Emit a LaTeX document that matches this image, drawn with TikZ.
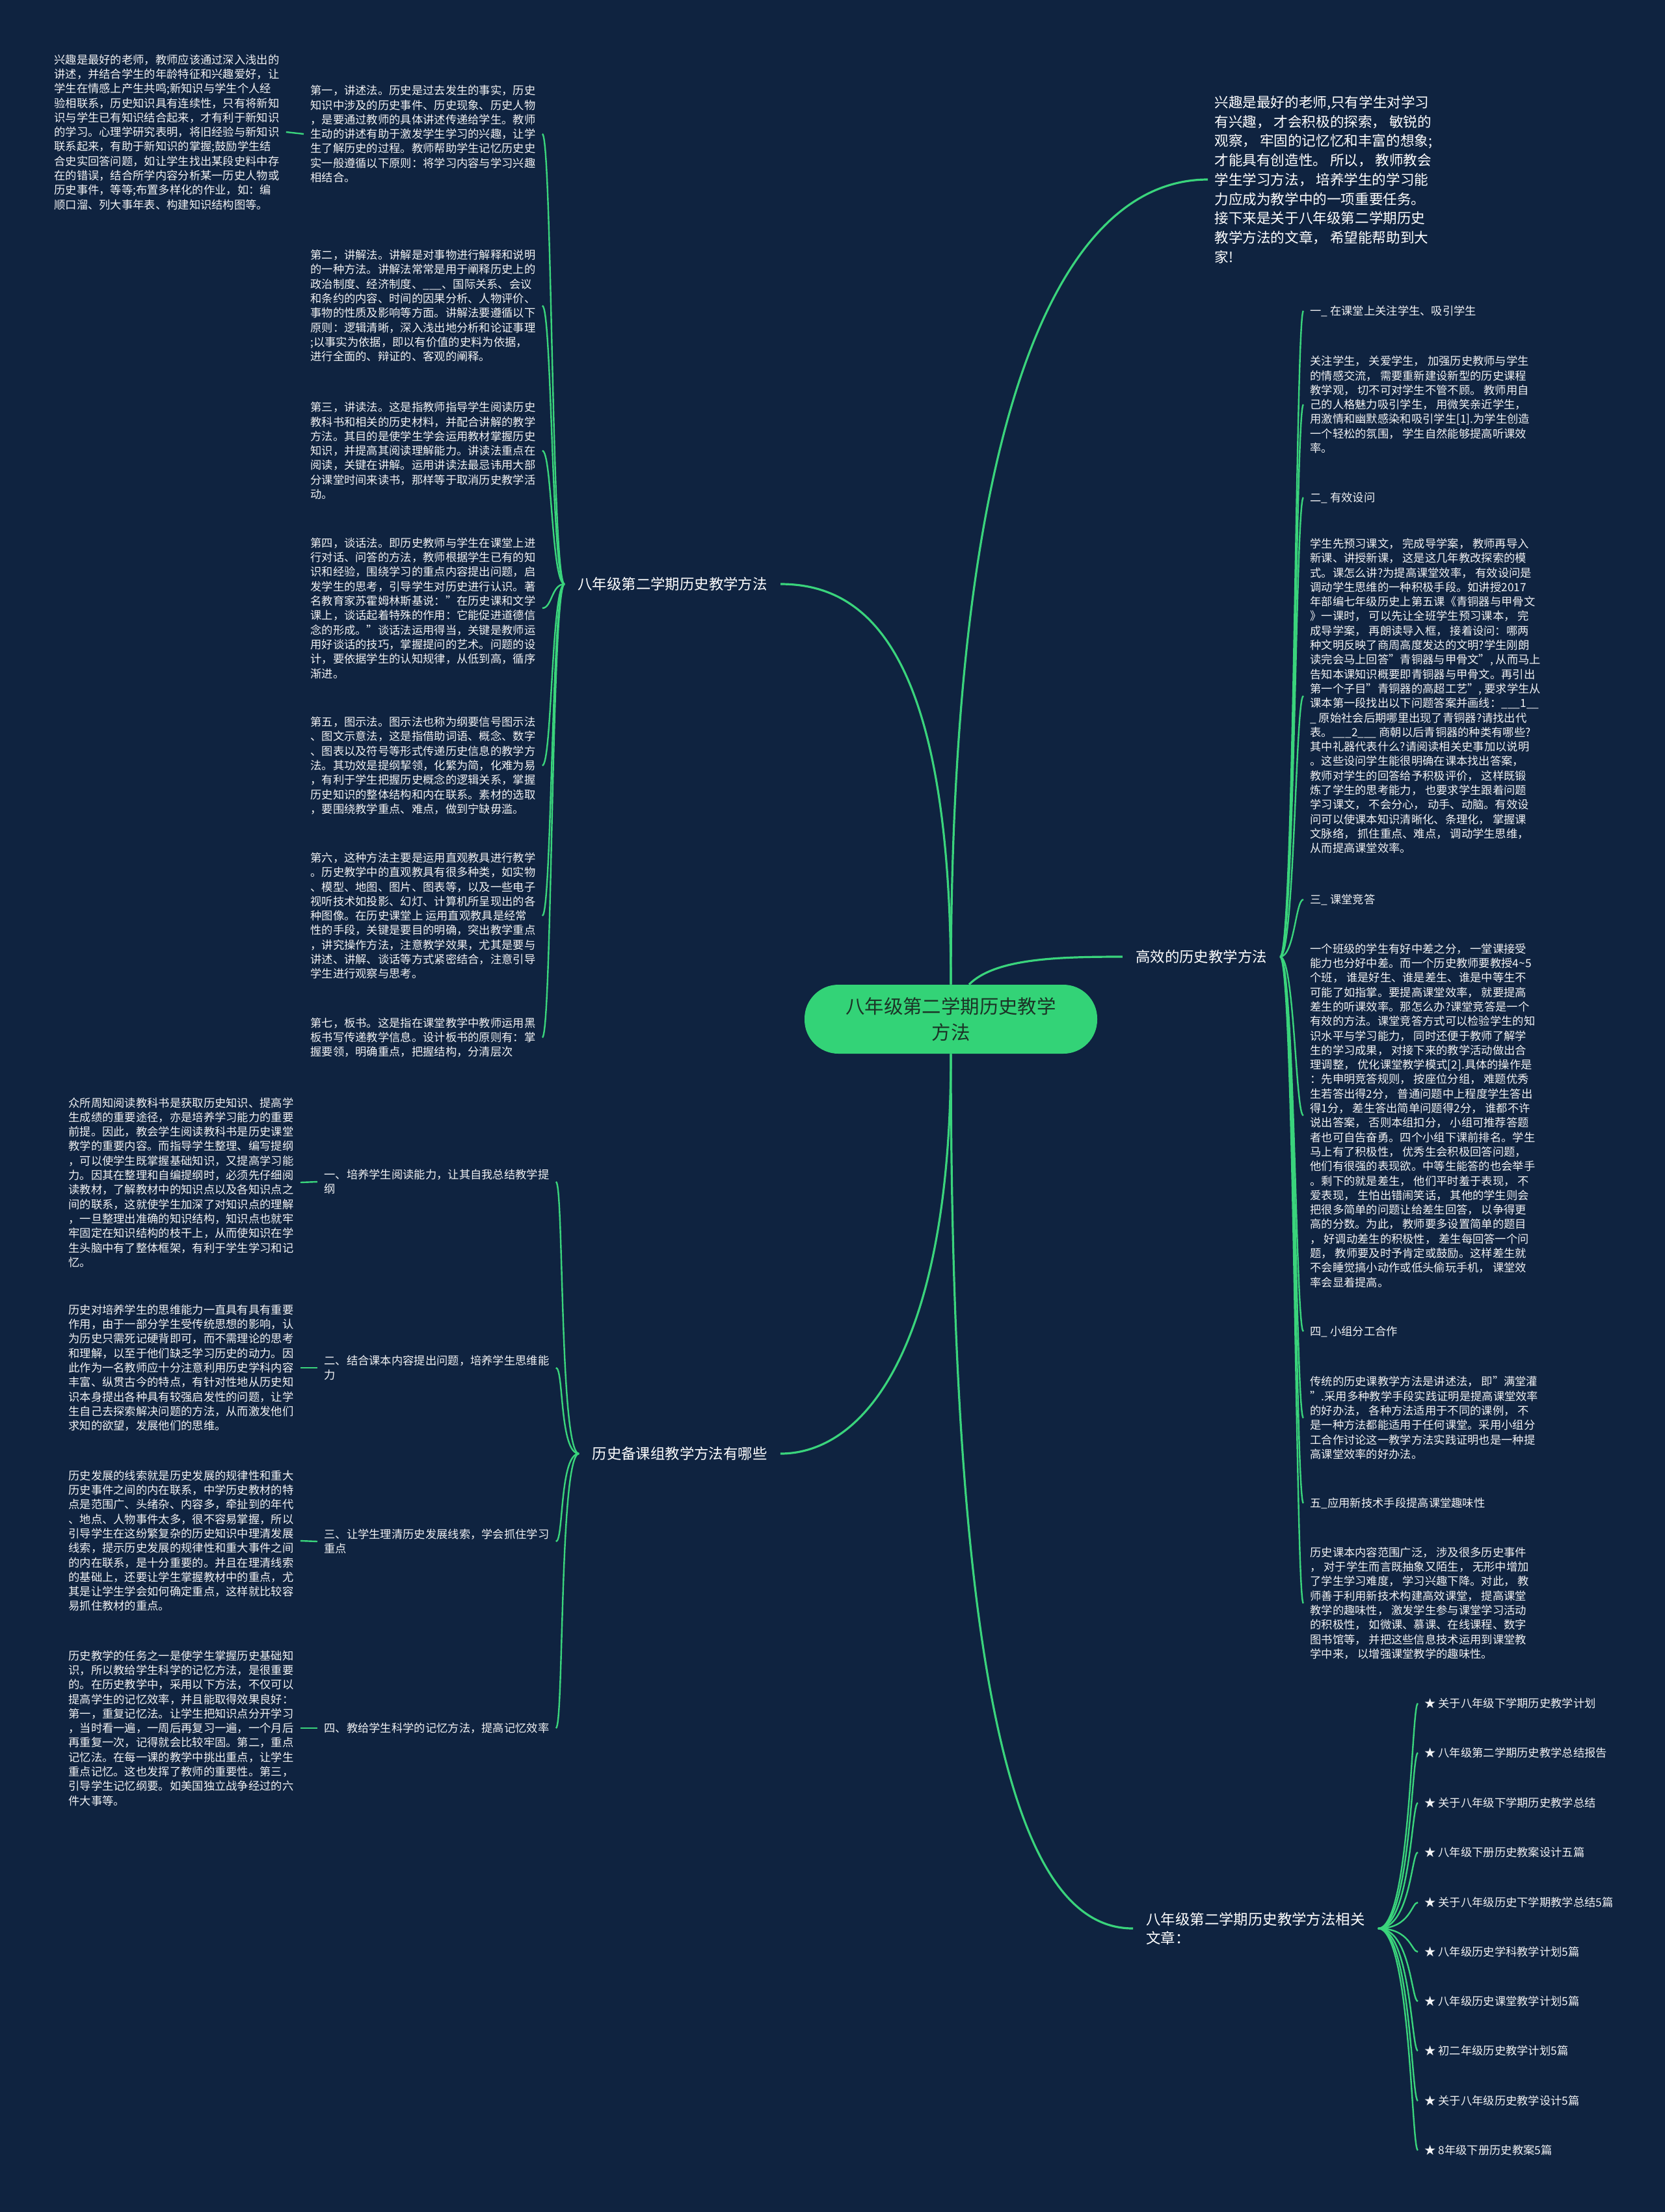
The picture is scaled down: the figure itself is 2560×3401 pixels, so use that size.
\documentclass[tikz,border=0pt]{standalone}
\usepackage{fontspec}
\setmainfont{Noto Sans CJK SC}
\definecolor{mapbg}{HTML}{0F2340}
\definecolor{mapgreen}{HTML}{3AD47C}
\definecolor{topicfill}{HTML}{33D377}
\definecolor{topictext}{HTML}{1B3326}
\tikzstyle{mainline}=[-, line width=1.6pt, mapgreen]
\tikzstyle{subline}=[-, line width=1.2pt, mapgreen]
\tikzstyle{topic}=[rectangle, rounded corners=26pt, fill=topicfill, minimum width=225pt, minimum height=53pt, align=center, text=topictext, font=\fontsize{14.7}{20}\selectfont]
\tikzstyle{branch}=[inner xsep=10pt, inner ysep=2pt, align=left, text=white, font=\fontsize{11.2}{14.5}\selectfont]
\tikzstyle{leaf}=[inner xsep=5pt, inner ysep=0pt, align=left, text=white!94!mapbg, font=\fontsize{8.65}{11.15}\selectfont]
\tikzstyle{intro}=[inner xsep=5pt, inner ysep=0pt, align=left, text=white, font=\fontsize{10.8}{14.85}\selectfont]

\begin{document}
\begin{tikzpicture}[x=0.5pt, y=-0.5pt]
		\fill[mapbg] (0,0) rectangle (2560,3401);
		\useasboundingbox (0,0) rectangle (2560,3401);

		\node (central topic) at (1462, 1567) [topic] {八年级第二学期历史教学\\方法};

		\node (teaching methods) at (1034, 898) [branch] {八年级第二学期历史教学方法};
		\node (lesson prep) at (1045, 2235) [branch] {历史备课组教学方法有哪些};
		\node (efficient methods) at (1847, 1471) [branch] {高效的历史教学方法};
		\node (related articles) at (1742, 2965) [branch, anchor=west] {八年级第二学期历史教学方法相关\\文章：};

		\node (intro) at (1857, 276) [intro, anchor=west] {兴趣是最好的老师,只有学生对学习\\有兴趣， 才会积极的探索， 敏锐的\\观察， 牢固的记忆忆和丰富的想象;\\才能具有创造性。 所以， 教师教会\\学生学习方法， 培养学生的学习能\\力应成为教学中的一项重要任务。\\接下来是关于八年级第二学期历史\\教学方法的文章， 希望能帮助到大\\家!};

		\draw[mainline] (central topic.north) .. controls +(0,-514) and +(132,0) .. (teaching methods.east);
		\draw[mainline] (central topic.north) .. controls +(0,-900) and +(-220,0) .. (intro.west);
		\draw[mainline] ([xshift=14pt]central topic.north) .. controls +(40,-40) and +(-100,0) .. (efficient methods.west);
		\draw[mainline] (central topic.south) .. controls +(0,450) and +(130,0) .. (lesson prep.east);
		\draw[mainline] (central topic.south) .. controls +(0,1100) and +(-150,0) .. (related articles.west);

		\node (lecture method) at (467, 206) [leaf, anchor=west] {第一，讲述法。历史是过去发生的事实，历史\\知识中涉及的历史事件、历史现象、历史人物\\，是要通过教师的具体讲述传递给学生。教师\\生动的讲述有助于激发学生学习的兴趣，让学\\生了解历史的过程。教师帮助学生记忆历史史\\实一般遵循以下原则：将学习内容与学习兴趣\\相结合。};
		\node (interest leaf) at (73, 203) [leaf, anchor=west] {兴趣是最好的老师，教师应该通过深入浅出的\\讲述，并结合学生的年龄特征和兴趣爱好，让\\学生在情感上产生共鸣;新知识与学生个人经\\验相联系，历史知识具有连续性，只有将新知\\识与学生已有知识结合起来，才有利于新知识\\的学习。心理学研究表明，将旧经验与新知识\\联系起来，有助于新知识的掌握;鼓励学生结\\合史实回答问题，如让学生找出某段史料中存\\在的错误，结合所学内容分析某一历史人物或\\历史事件，等等;布置多样化的作业，如：编\\顺口溜、列大事年表、构建知识结构图等。};
		\node (explanation method) at (467, 470) [leaf, anchor=west] {第二，讲解法。讲解是对事物进行解释和说明\\的一种方法。讲解法常常是用于阐释历史上的\\政治制度、经济制度、\_\_\_、国际关系、会议\\和条约的内容、时间的因果分析、人物评价、\\事物的性质及影响等方面。讲解法要遵循以下\\原则：逻辑清晰，深入浅出地分析和论证事理\\;以事实为依据，即以有价值的史料为依据，\\进行全面的、辩证的、客观的阐释。};
		\node (reading method) at (467, 693) [leaf, anchor=west] {第三，讲读法。这是指教师指导学生阅读历史\\教科书和相关的历史材料，并配合讲解的教学\\方法。其目的是使学生学会运用教材掌握历史\\知识，并提高其阅读理解能力。讲读法重点在\\阅读，关键在讲解。运用讲读法最忌讳用大部\\分课堂时间来读书，那样等于取消历史教学活\\动。};
		\node (dialogue method) at (467, 935) [leaf, anchor=west] {第四，谈话法。即历史教师与学生在课堂上进\\行对话、问答的方法，教师根据学生已有的知\\识和经验，围绕学习的重点内容提出问题，启\\发学生的思考，引导学生对历史进行认识。著\\名教育家苏霍姆林斯基说："在历史课和文学\\课上，谈话起着特殊的作用：它能促进道德信\\念的形成。"谈话法运用得当，关键是教师运\\用好谈话的技巧，掌握提问的艺术。问题的设\\计，要依据学生的认知规律，从低到高，循序\\渐进。};
		\node (diagram method) at (467, 1177) [leaf, anchor=west] {第五，图示法。图示法也称为纲要信号图示法\\、图文示意法，这是指借助词语、概念、数字\\、图表以及符号等形式传递历史信息的教学方\\法。其功效是提纲挈领，化繁为简，化难为易\\，有利于学生把握历史概念的逻辑关系，掌握\\历史知识的整体结构和内在联系。素材的选取\\，要围绕教学重点、难点，做到宁缺毋滥。};
		\node (visual aids) at (467, 1408) [leaf, anchor=west] {第六，这种方法主要是运用直观教具进行教学\\。历史教学中的直观教具有很多种类，如实物\\、模型、地图、图片、图表等，以及一些电子\\视听技术如投影、幻灯、计算机所呈现出的各\\种图像。在历史课堂上 运用直观教具是经常\\性的手段，关键是要目的明确，突出教学重点\\，讲究操作方法，注意教学效果，尤其是要与\\讲述、讲解、谈话等方式紧密结合，注意引导\\学生进行观察与思考。};
		\node (blackboard writing) at (467, 1595) [leaf, anchor=west] {第七，板书。这是指在课堂教学中教师运用黑\\板书写传递教学信息。设计板书的原则有：掌\\握要领，明确重点，把握结构，分清层次};

		\draw[subline] (teaching methods.west) .. controls +(-20,0) and +(15,0) .. (lecture method.east);
		\draw[subline] (teaching methods.west) .. controls +(-20,0) and +(15,0) .. (explanation method.east);
		\draw[subline] (teaching methods.west) .. controls +(-20,0) and +(15,0) .. (reading method.east);
		\draw[subline] (teaching methods.west) .. controls +(-20,0) and +(15,0) .. (dialogue method.east);
		\draw[subline] (teaching methods.west) .. controls +(-20,0) and +(15,0) .. (diagram method.east);
		\draw[subline] (teaching methods.west) .. controls +(-20,0) and +(15,0) .. (visual aids.east);
		\draw[subline] (teaching methods.west) .. controls +(-20,0) and +(15,0) .. (blackboard writing.east);
		\draw[subline] (lecture method.west) -- (interest leaf.east);

		\node (reading skill) at (488, 1817) [leaf, anchor=west] {一、培养学生阅读能力，让其自我总结教学提\\纲};
		\node (question design) at (488, 2103) [leaf, anchor=west] {二、结合课本内容提出问题，培养学生思维能\\力};
		\node (clue tracing) at (488, 2370) [leaf, anchor=west] {三、让学生理清历史发展线索，学会抓住学习\\重点};
		\node (memory method) at (488, 2657) [leaf, anchor=west] {四、教给学生科学的记忆方法，提高记忆效率};

		\node (reading detail) at (95, 1818) [leaf, anchor=west] {众所周知阅读教科书是获取历史知识、提高学\\生成绩的重要途径，亦是培养学习能力的重要\\前提。因此，教会学生阅读教科书是历史课堂\\教学的重要内容。而指导学生整理、编写提纲\\，可以使学生既掌握基础知识，又提高学习能\\力。因其在整理和自编提纲时，必须先仔细阅\\读教材，了解教材中的知识点以及各知识点之\\间的联系，这就使学生加深了对知识点的理解\\，一旦整理出准确的知识结构，知识点也就牢\\牢固定在知识结构的枝干上，从而使知识在学\\生头脑中有了整体框架，有利于学生学习和记\\忆。};
		\node (question detail) at (95, 2103) [leaf, anchor=west] {历史对培养学生的思维能力一直具有具有重要\\作用，由于一部分学生受传统思想的影响，认\\为历史只需死记硬背即可，而不需理论的思考\\和理解，以至于他们缺乏学习历史的动力。因\\此作为一名教师应十分注意利用历史学科内容\\丰富、纵贯古今的特点，有针对性地从历史知\\识本身提出各种具有较强启发性的问题，让学\\生自己去探索解决问题的方法，从而激发他们\\求知的欲望，发展他们的思维。};
		\node (clue detail) at (95, 2369) [leaf, anchor=west] {历史发展的线索就是历史发展的规律性和重大\\历史事件之间的内在联系，中学历史教材的特\\点是范围广、头绪杂、内容多，牵扯到的年代\\、地点、人物事件太多，很不容易掌握，所以\\引导学生在这纷繁复杂的历史知识中理清发展\\线索，提示历史发展的规律性和重大事件之间\\的内在联系，是十分重要的。并且在理清线索\\的基础上，还要让学生掌握教材中的重点，尤\\其是让学生学会如何确定重点，这样就比较容\\易抓住教材的重点。};
		\node (memory detail) at (95, 2657) [leaf, anchor=west] {历史教学的任务之一是使学生掌握历史基础知\\识，所以教给学生科学的记忆方法，是很重要\\的。在历史教学中，采用以下方法，不仅可以\\提高学生的记忆效率，并且能取得效果良好：\\第一，重复记忆法。让学生把知识点分开学习\\，当时看一遍，一周后再复习一遍，一个月后\\再重复一次，记得就会比较牢固。第二，重点\\记忆法。在每一课的教学中挑出重点，让学生\\重点记忆。这也发挥了教师的重要性。第三，\\引导学生记忆纲要。如美国独立战争经过的六\\件大事等。};

		\draw[subline] (lesson prep.west) .. controls +(-30,0) and +(12,0) .. (reading skill.east);
		\draw[subline] (lesson prep.west) .. controls +(-30,0) and +(12,0) .. (question design.east);
		\draw[subline] (lesson prep.west) .. controls +(-30,0) and +(12,0) .. (clue tracing.east);
		\draw[subline] (lesson prep.west) .. controls +(-30,0) and +(12,0) .. (memory method.east);
		\draw[subline] (reading skill.west) -- (reading detail.east);
		\draw[subline] (question design.west) -- (question detail.east);
		\draw[subline] (clue tracing.west) -- (clue detail.east);
		\draw[subline] (memory method.west) -- (memory detail.east);

		\node (attention title) at (2004, 478) [leaf, anchor=west] {一\_ 在课堂上关注学生、吸引学生};
		\node (attention text) at (2004, 622) [leaf, anchor=west] {关注学生， 关爱学生， 加强历史教师与学生\\的情感交流， 需要重新建设新型的历史课程\\教学观， 切不可对学生不管不顾。 教师用自\\己的人格魅力吸引学生， 用微笑亲近学生，\\用激情和幽默感染和吸引学生[1].为学生创造\\一个轻松的氛围， 学生自然能够提高听课效\\率。};
		\node (questioning title) at (2004, 765) [leaf, anchor=west] {二\_ 有效设问};
		\node (questioning text) at (2004, 1070) [leaf, anchor=west] {学生先预习课文， 完成导学案， 教师再导入\\新课、讲授新课， 这是这几年教改探索的模\\式。课怎么讲?为提高课堂效率， 有效设问是\\调动学生思维的一种积极手段。如讲授2017\\年部编七年级历史上第五课《青铜器与甲骨文\\》一课时， 可以先让全班学生预习课本， 完\\成导学案， 再朗读导入框， 接着设问：哪两\\种文明反映了商周高度发达的文明?学生刚朗\\读完会马上回答"青铜器与甲骨文", 从而马上\\告知本课知识概要即青铜器与甲骨文。再引出\\第一个子目"青铜器的高超工艺", 要求学生从\\课本第一段找出以下问题答案并画线：\_\_\_1\_\_\\\_ 原始社会后期哪里出现了青铜器?请找出代\\表。\_\_\_2\_\_\_ 商朝以后青铜器的种类有哪些?\\其中礼器代表什么?请阅读相关史事加以说明\\。这些设问学生能很明确在课本找出答案，\\教师对学生的回答给予积极评价， 这样既锻\\炼了学生的思考能力， 也要求学生跟着问题\\学习课文， 不会分心， 动手、动脑。有效设\\问可以使课本知识清晰化、条理化， 掌握课\\文脉络， 抓住重点、难点， 调动学生思维，\\从而提高课堂效率。};
		\node (contest title) at (2004, 1383) [leaf, anchor=west] {三\_ 课堂竞答};
		\node (contest text) at (2004, 1715) [leaf, anchor=west] {一个班级的学生有好中差之分， 一堂课接受\\能力也分好中差。而一个历史教师要教授4\textasciitilde5\\个班， 谁是好生、谁是差生、谁是中等生不\\可能了如指掌。要提高课堂效率， 就要提高\\差生的听课效率。那怎么办?课堂竞答是一个\\有效的方法。课堂竞答方式可以检验学生的知\\识水平与学习能力， 同时还便于教师了解学\\生的学习成果， 对接下来的教学活动做出合\\理调整， 优化课堂教学模式[2].具体的操作是\\：先申明竞答规则， 按座位分组， 难题优秀\\生若答出得2分， 普通问题中上程度学生答出\\得1分， 差生答出简单问题得2分， 谁都不许\\说出答案， 否则本组扣分， 小组可推荐答题\\者也可自告奋勇。四个小组下课前排名。学生\\马上有了积极性， 优秀生会积极回答问题，\\他们有很强的表现欲。中等生能答的也会举手\\。剩下的就是差生， 他们平时羞于表现， 不\\爱表现， 生怕出错闹笑话， 其他的学生则会\\把很多简单的问题让给差生回答， 以争得更\\高的分数。为此， 教师要多设置简单的题目\\， 好调动差生的积极性， 差生每回答一个问\\题， 教师要及时予肯定或鼓励。这样差生就\\不会睡觉搞小动作或低头偷玩手机， 课堂效\\率会显着提高。};
		\node (group title) at (2004, 2047) [leaf, anchor=west] {四\_ 小组分工合作};
		\node (group text) at (2004, 2180) [leaf, anchor=west] {传统的历史课教学方法是讲述法， 即"满堂灌\\".采用多种教学手段实践证明是提高课堂效率\\的好办法， 各种方法适用于不同的课例， 不\\是一种方法都能适用于任何课堂。采用小组分\\工合作讨论这一教学方法实践证明也是一种提\\高课堂效率的好办法。};
		\node (technology title) at (2004, 2311) [leaf, anchor=west] {五\_应用新技术手段提高课堂趣味性};
		\node (technology text) at (2004, 2465) [leaf, anchor=west] {历史课本内容范围广泛， 涉及很多历史事件\\， 对于学生而言既抽象又陌生， 无形中增加\\了学生学习难度， 学习兴趣下降。对此， 教\\师善于利用新技术构建高效课堂， 提高课堂\\教学的趣味性， 激发学生参与课堂学习活动\\的积极性， 如微课、慕课、在线课程、数字\\图书馆等， 并把这些信息技术运用到课堂教\\学中来， 以增强课堂教学的趣味性。};

		\draw[subline] (efficient methods.east) .. controls +(22,0) and +(-12,0) .. (attention title.west);
		\draw[subline] (efficient methods.east) .. controls +(22,0) and +(-12,0) .. (attention text.west);
		\draw[subline] (efficient methods.east) .. controls +(22,0) and +(-12,0) .. (questioning title.west);
		\draw[subline] (efficient methods.east) .. controls +(22,0) and +(-12,0) .. (questioning text.west);
		\draw[subline] (efficient methods.east) .. controls +(22,0) and +(-12,0) .. (contest title.west);
		\draw[subline] (efficient methods.east) .. controls +(22,0) and +(-12,0) .. (contest text.west);
		\draw[subline] (efficient methods.east) .. controls +(22,0) and +(-12,0) .. (group title.west);
		\draw[subline] (efficient methods.east) .. controls +(22,0) and +(-12,0) .. (group text.west);
		\draw[subline] (efficient methods.east) .. controls +(22,0) and +(-12,0) .. (technology title.west);
		\draw[subline] (efficient methods.east) .. controls +(22,0) and +(-12,0) .. (technology text.west);

		\node (article 1) at (2180, 2619) [leaf, anchor=west] {★ 关于八年级下学期历史教学计划};
		\node (article 2) at (2180, 2695) [leaf, anchor=west] {★ 八年级第二学期历史教学总结报告};
		\node (article 3) at (2180, 2772) [leaf, anchor=west] {★ 关于八年级下学期历史教学总结};
		\node (article 4) at (2180, 2848) [leaf, anchor=west] {★ 八年级下册历史教案设计五篇};
		\node (article 5) at (2180, 2925) [leaf, anchor=west] {★ 关于八年级历史下学期教学总结5篇};
		\node (article 6) at (2180, 3001) [leaf, anchor=west] {★ 八年级历史学科教学计划5篇};
		\node (article 7) at (2180, 3077) [leaf, anchor=west] {★ 八年级历史课堂教学计划5篇};
		\node (article 8) at (2180, 3153) [leaf, anchor=west] {★ 初二年级历史教学计划5篇};
		\node (article 9) at (2180, 3230) [leaf, anchor=west] {★ 关于八年级历史教学设计5篇};
		\node (article 10) at (2180, 3306) [leaf, anchor=west] {★ 8年级下册历史教案5篇};

		\draw[subline] (related articles.east) .. controls +(50,0) and +(-10,0) .. (article 1.west);
		\draw[subline] (related articles.east) .. controls +(50,0) and +(-10,0) .. (article 2.west);
		\draw[subline] (related articles.east) .. controls +(50,0) and +(-10,0) .. (article 3.west);
		\draw[subline] (related articles.east) .. controls +(50,0) and +(-10,0) .. (article 4.west);
		\draw[subline] (related articles.east) .. controls +(50,0) and +(-10,0) .. (article 5.west);
		\draw[subline] (related articles.east) .. controls +(50,0) and +(-10,0) .. (article 6.west);
		\draw[subline] (related articles.east) .. controls +(50,0) and +(-10,0) .. (article 7.west);
		\draw[subline] (related articles.east) .. controls +(50,0) and +(-10,0) .. (article 8.west);
		\draw[subline] (related articles.east) .. controls +(50,0) and +(-10,0) .. (article 9.west);
		\draw[subline] (related articles.east) .. controls +(50,0) and +(-10,0) .. (article 10.west);
\end{tikzpicture}
\end{document}
